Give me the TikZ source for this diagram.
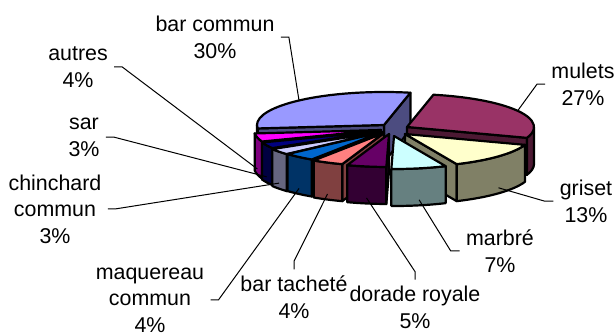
\documentclass[tikz,border=0pt]{standalone}
\usepackage{fontspec}
\setmainfont{Liberation Sans}
\usetikzlibrary{calc}

\definecolor{barcommun}{HTML}{9999FF}
\definecolor{mulets}{HTML}{993366}
\definecolor{griset}{HTML}{FFFFCC}
\definecolor{marbre}{HTML}{CCFFFF}
\definecolor{dorade}{HTML}{660066}
\definecolor{bartachete}{HTML}{FF8080}
\definecolor{maquereau}{HTML}{0066CC}
\definecolor{chinchard}{HTML}{CCCCFF}
\definecolor{sar}{HTML}{000080}
\definecolor{autres}{HTML}{FF00FF}

\newcommand{\pierx}{127}
\newcommand{\piery}{33}
\newcommand{\piedep}{37}

\begin{document}
\begin{tikzpicture}[x=0.5pt,y=0.5pt,
  slicetop/.style={fill=#1, draw=black, line width=1.1pt, line join=round},
  sliceside/.style={fill=#1!50!black, draw=black, line width=1.1pt, line join=round},
  lbl/.style={align=center, inner sep=3pt, font=\fontsize{10.7}{13.25}\selectfont},
  leader/.style={line width=0.5pt}]

\useasboundingbox (0,0) rectangle (615,333);

% slices, back to front
\foreach \nm/\a/\b/\dx/\dy in {barcommun/-282/-174/-4/5, mulets/-19.2/78/19/3,
    autres/-174/-159.6/-7/0, sar/-159.6/-148.8/-7/-1, chinchard/-148.8/-138/-7/-2,
    griset/-66/-19.2/17/-4, maquereau/-138/-123.6/-6/-2, bartachete/-123.6/-109.2/-4/-3,
    dorade/-109.2/-91.2/1/-4, marbre/-91.2/-66/6/-6}
{
  \begin{scope}[shift={(388+\dx,203+\dy)}]
    \pgfmathsetmacro\ma{(\a+\b)/2}
    \pgfmathtruncatemacro\visa{cos(\a)>0 ? 1 : 0}
    \pgfmathtruncatemacro\visb{cos(\b)<0 ? 1 : 0}
    \pgfmathsetmacro\sidea{max(\a,-180)}
    \pgfmathsetmacro\sideb{min(\b,0)}
    \pgfmathtruncatemacro\viss{\sidea<\sideb ? 1 : 0}
    \pgfmathsetmacro\lh{sin(\ma)<0 ? 0.85*\piedep : 0}
    \ifnum\visa=1
      \filldraw[sliceside=\nm] (0,0) -- ({\pierx*cos(\a)},{\piery*sin(\a)}) -- ++(0,-\piedep) -- (0,-\piedep) -- cycle;
    \fi
    \ifnum\visb=1
      \filldraw[sliceside=\nm] (0,0) -- ({\pierx*cos(\b)},{\piery*sin(\b)}) -- ++(0,-\piedep) -- (0,-\piedep) -- cycle;
    \fi
    \ifnum\viss=1
      \filldraw[sliceside=\nm] ({\pierx*cos(\sidea)},{\piery*sin(\sidea)})
        arc[start angle=\sidea, end angle=\sideb, x radius=\pierx, y radius=\piery]
        -- ++(0,-\piedep)
        arc[start angle=\sideb, end angle=\sidea, x radius=\pierx, y radius=\piery] -- cycle;
    \fi
    \filldraw[slicetop=\nm] (0,0) -- ({\pierx*cos(\a)},{\piery*sin(\a)})
      arc[start angle=\a, end angle=\b, x radius=\pierx, y radius=\piery] -- cycle;
    \coordinate (p\nm) at ({\pierx*cos(\ma)},{\piery*sin(\ma)-\lh});
  \end{scope}
}

% labels
\node[lbl, anchor=base] (barcommun) at (215,275) {bar commun\\30\%};
\node[lbl, anchor=base] (autres) at (78,246) {autres\\4\%};
\node[lbl, anchor=base] (sar) at (84,177) {sar\\3\%};
\node[lbl, anchor=base] (chinchard) at (55,90) {chinchard\\commun\\3\%};
\node[lbl, anchor=base] (maquereau) at (150,1) {maquereau\\commun\\4\%};
\node[lbl, anchor=base] (bartachete) at (294,15) {bar tacheté\\4\%};
\node[lbl, anchor=base] (dorade) at (415,5) {dorade royale\\5\%};
\node[lbl, anchor=base] (marbre) at (500,61) {marbré\\7\%};
\node[lbl, anchor=base] (griset) at (586,111) {griset\\13\%};
\node[lbl, anchor=base] (mulets) at (583,228) {mulets\\27\%};

% leaders
\draw[leader] (barcommun.east) -- ++(8,0) -- (pbarcommun);
\draw[leader] (autres.east) -- ++(8,0) -- (pautres);
\draw[leader] (sar.east) -- ++(8,0) -- (psar);
\draw[leader] (chinchard.east) -- ++(8,0) -- (pchinchard);
\draw[leader] (maquereau.east) -- ++(8,0) -- (pmaquereau);
\draw[leader] (bartachete.north) -- ++(0,8) -- (pbartachete);
\draw[leader] (dorade.north) -- ++(0,8) -- (pdorade);
\draw[leader] (marbre.west) -- ++(-9,0) -- (pmarbre);
\draw[leader] (griset.west) -- ++(-9,0) -- (pgriset);
\draw[leader] (mulets.west) -- ++(-8,0) -- (pmulets);

\end{tikzpicture}
\end{document}
